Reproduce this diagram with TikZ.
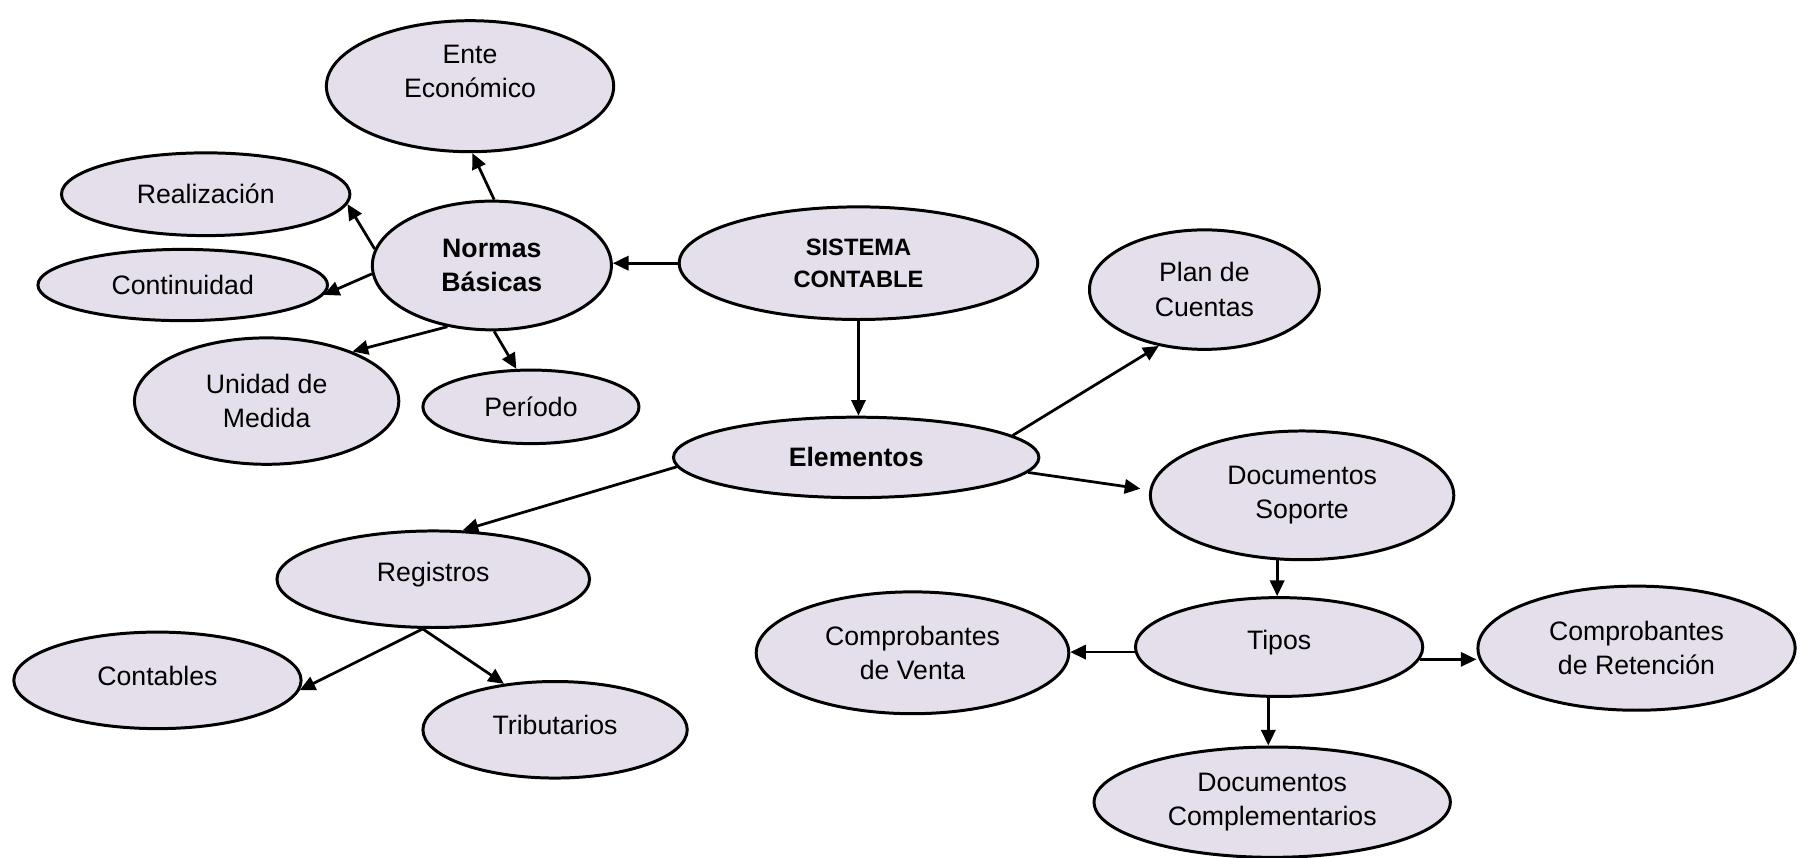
\documentclass[tikz,border=0pt]{standalone}
\usepackage{fontspec}
\setmainfont{Liberation Sans}
\usetikzlibrary{shapes.geometric,arrows.meta}
\definecolor{ovalfill}{RGB}{228,223,235}
\newcommand{\upa}[2]{\raisebox{#1}[\height][\depth]{#2}}
\begin{document}
\begin{tikzpicture}[x=0.5pt,y=-0.5pt,
  oval/.style={ellipse,draw=black,line width=1.3pt,fill=ovalfill,inner sep=0pt,align=center,
    font=\fontsize{11.6}{15}\selectfont},
  boldoval/.style={oval,font=\fontsize{11.6}{15}\selectfont\bfseries},
  arr/.style={line width=1.2pt,-{Triangle[length=6.8pt,width=6.2pt]}}]
\useasboundingbox[fill=white] (0,0) rectangle (1568,746);

\node[oval,minimum width=125pt,minimum height=57pt] (ente) at (409,75) {\upa{5.5pt}{\begin{tabular}{@{}c@{}}Ente\\Económico\end{tabular}}};
\node[oval,minimum width=125.5pt,minimum height=36pt] (realiz) at (179,169) {Realización};
\node[boldoval,minimum width=104pt,minimum height=56pt] (normas) at (428,231) {Normas\\Básicas};
\node[oval,minimum width=156pt,minimum height=49pt,font=\fontsize{10.3}{14}\selectfont\bfseries] (sistema) at (747,229) {SISTEMA\\CONTABLE};
\node[oval,minimum width=126pt,minimum height=31pt] (contin) at (159,248) {Continuidad};
\node[oval,minimum width=115pt,minimum height=55pt] (unidad) at (232,349) {Unidad de\\Medida};
\node[oval,minimum width=94pt,minimum height=32pt] (periodo) at (462,354) {Período};
\node[oval,minimum width=100pt,minimum height=52pt] (plan) at (1048,252) {Plan de\\Cuentas};
\node[boldoval,minimum width=159pt,minimum height=35pt] (elem) at (745,398) {Elementos};
\node[oval,minimum width=132pt,minimum height=56pt] (docsop) at (1133,431) {Documentos\\Soporte};
\node[oval,minimum width=136pt,minimum height=42pt] (reg) at (377,504) {\upa{1.9pt}{Registros}};
\node[oval,minimum width=136pt,minimum height=53pt] (cv) at (794,568) {Comprobantes\\de Venta};
\node[oval,minimum width=125pt,minimum height=43pt] (tipos) at (1113,563) {\upa{1.9pt}{Tipos}};
\node[oval,minimum width=138pt,minimum height=54pt] (cr) at (1424,564) {Comprobantes\\de Retención};
\node[oval,minimum width=125pt,minimum height=42pt] (cont) at (137,592) {\upa{1.9pt}{Contables}};
\node[oval,minimum width=115pt,minimum height=42pt] (trib) at (483,635) {\upa{1.9pt}{Tributarios}};
\node[oval,minimum width=155pt,minimum height=48pt] (dc) at (1107,698) {Documentos\\Complementarios};

\draw[arr] (normas.88) -- (ente.272);
\draw[arr] (normas.172) -- (realiz.-4);
\draw[arr] (normas.184) -- (contin.-4);
\draw[arr] (normas.-126) -- (unidad.30);
\draw[arr] (normas.-88) -- (periodo.111);
\draw[arr] (sistema.west) -- (sistema.west -| normas.east);
\draw[arr] (sistema.south) -- (sistema.south |- elem.north);
\draw[arr] (elem.8) -- (plan.-129);
\draw[arr,shorten >=4pt] (elem.-5.6) -- (docsop.178);
\draw[arr] (elem.183) -- (reg.59);
\draw[arr] (reg.-102) -- (cont.-4);
\draw[arr] (reg.-102) -- (trib.138);
\draw[arr] (docsop.-111) -- (docsop.-111 |- tipos.north);
\draw[arr] (tipos.182) -- (tipos.182 -| cv.east);
\draw[arr] (tipos.-5) -- (tipos.-5 -| cr.west);
\draw[arr] (tipos.-102) -- (tipos.-102 |- dc.north);
\end{tikzpicture}
\end{document}
